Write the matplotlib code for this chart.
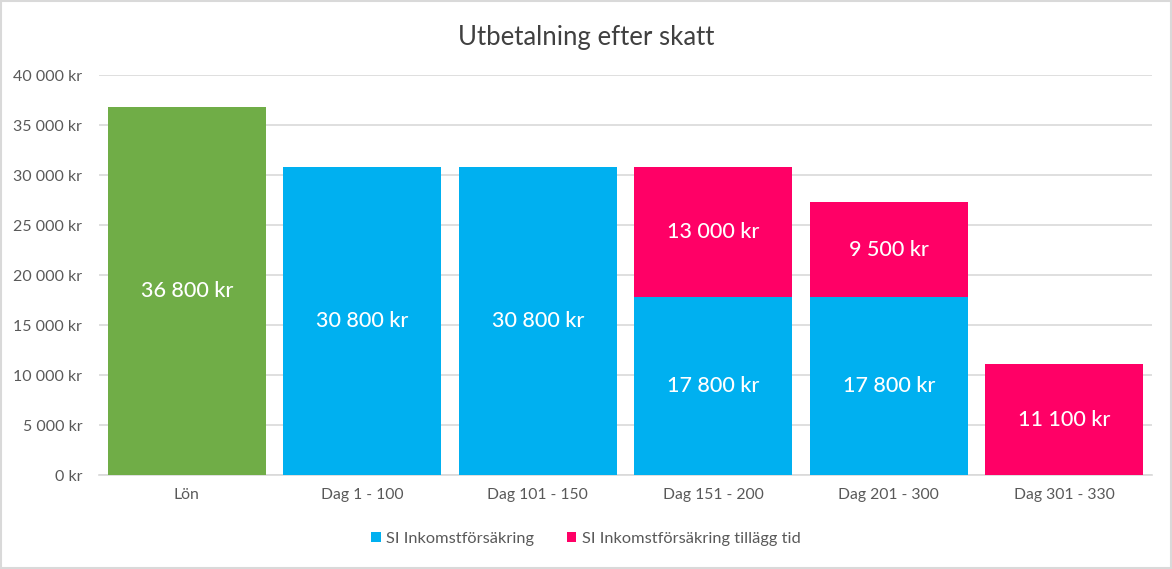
import matplotlib
matplotlib.use("Agg")
import matplotlib.pyplot as plt
from matplotlib.patches import Rectangle
import numpy as np

plt.rcParams['font.family'] = ['Lato', 'DejaVu Sans']

categories = ["Lön", "Dag 1 - 100", "Dag 101 - 150", "Dag 151 - 200", "Dag 201 - 300", "Dag 301 - 330"]
lon = [36800, 0, 0, 0, 0, 0]
si_base = [0, 30800, 30800, 17800, 17800, 0]
si_extra = [0, 0, 0, 13000, 9500, 11100]
yticks = [0, 5000, 10000, 15000, 20000, 25000, 30000, 35000, 40000]

green = "#70AD47"
blue = "#00B0F0"
pink = "#FF0066"

def fmt(v):
    return f"{int(v):,}".replace(",", "\u00a0") + " kr"

fig = plt.figure(figsize=(11.72, 5.69), dpi=100)
ax = fig.add_axes([0.0845, 0.1652, 0.8985, 0.7028])

x = np.arange(len(categories))
w = 0.9
ax.bar(x, lon, w, color=green, zorder=3)
ax.bar(x, si_base, w, color=blue, zorder=3, label="SI Inkomstförsäkring")
ax.bar(x, si_extra, w, bottom=si_base, color=pink, zorder=3, label="SI Inkomstförsäkring tillägg tid")

lab_kw = dict(ha="center", va="center", color="white", fontsize=15.5, fontweight="medium")
for i in range(len(categories)):
    if lon[i] > 0:
        ax.text(x[i], lon[i] / 2, fmt(lon[i]), **lab_kw)
    if si_base[i] > 0:
        ax.text(x[i], si_base[i] / 2, fmt(si_base[i]), **lab_kw)
    if si_extra[i] > 0:
        ax.text(x[i], si_base[i] + si_extra[i] / 2, fmt(si_extra[i]), **lab_kw)

ax.set_xlim(-0.5, len(categories) - 0.5)
ax.set_ylim(0, 40000)
ax.set_yticks(yticks)
ax.set_yticklabels([fmt(v) for v in yticks])
ax.set_xticks(x)
ax.set_xticklabels(categories)
ax.tick_params(axis="both", length=0, colors="#595959")
ax.tick_params(axis="y", pad=12, labelsize=11.5)
ax.tick_params(axis="x", pad=9, labelsize=11.3)
ax.grid(axis="y", color="#D9D9D9", linewidth=1.2, zorder=0)
for s in ["top", "right", "left"]:
    ax.spines[s].set_visible(False)
ax.spines["bottom"].set_color("#D9D9D9")
ax.spines["bottom"].set_linewidth(1.2)

fig.text(0.5, 1 - 38 / 569, "Utbetalning efter skatt", ha="center", va="center", fontsize=18.5, color="#404040")

leg = fig.legend(loc="center", bbox_to_anchor=(0.5, 1 - 539 / 569), ncol=2, frameon=False,
                 fontsize=11.8, handlelength=0.55, handleheight=0.55, handletextpad=0.35, columnspacing=2.0)
for t in leg.get_texts():
    t.set_color("#595959")

fig.patches.append(Rectangle((0.001, 0.001), 0.998, 0.998, transform=fig.transFigure,
                             fill=False, edgecolor="#D9D9D9", linewidth=1.5))

fig.savefig("out.png", dpi=100, facecolor="white")
